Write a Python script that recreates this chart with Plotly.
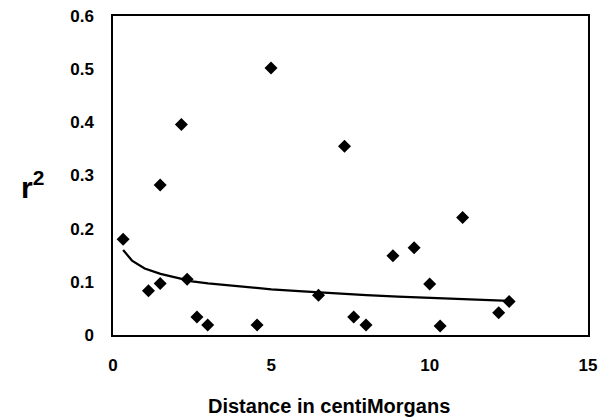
import plotly.graph_objects as go

# Scatter data (distance in cM, r^2)
dist_cm = [0.32, 1.12, 1.49, 1.49, 2.16, 2.34, 2.65, 2.99, 4.55, 4.99,
           6.49, 7.31, 7.60, 7.99, 8.84, 9.51, 10.0, 10.33, 11.04, 12.18, 12.51]
r2 = [0.180, 0.083, 0.097, 0.282, 0.396, 0.105, 0.034, 0.019, 0.019, 0.502,
      0.075, 0.355, 0.034, 0.019, 0.149, 0.164, 0.096, 0.017, 0.221, 0.042, 0.063]

# Trend curve
trend_x = [0.32, 0.6, 1.0, 1.5, 2.0, 2.5, 3.0, 4.0, 5.0, 6.0, 7.0, 8.0, 9.0, 10.0, 11.0, 12.0, 12.51]
trend_y = [0.160, 0.140, 0.125, 0.115, 0.108, 0.101, 0.097, 0.091, 0.086, 0.082,
           0.078, 0.075, 0.072, 0.070, 0.068, 0.066, 0.064]

x_ticks = [0, 5, 10, 15]
y_ticks = [0, 0.1, 0.2, 0.3, 0.4, 0.5, 0.6]
y_tick_labels = ["0", "0.1", "0.2", "0.3", "0.4", "0.5", "0.6"]

fam = "Liberation Sans, Arial, sans-serif"

fig = go.Figure()
fig.add_trace(go.Scatter(x=trend_x, y=trend_y, mode="lines",
                         line=dict(color="black", width=2.2), showlegend=False,
                         hoverinfo="skip"))
fig.add_trace(go.Scatter(x=dist_cm, y=r2, mode="markers",
                         marker=dict(symbol="diamond", color="black", size=10),
                         showlegend=False))

fig.update_layout(
    width=602, height=419,
    margin=dict(l=113, r=14, t=16, b=84),
    paper_bgcolor="white", plot_bgcolor="white",
    font=dict(family=fam, color="black"),
    xaxis=dict(range=[0, 15], tickvals=x_ticks, ticktext=[str(v) for v in x_ticks],
               showgrid=False, zeroline=False, showline=True, linecolor="black",
               linewidth=1.5, mirror=True, ticks="", ticklabelstandoff=14,
               automargin=False, ticklabeloverflow="allow",
               tickfont=dict(size=17, family=fam, weight="bold")),
    yaxis=dict(range=[0, 0.6], tickvals=y_ticks, ticktext=y_tick_labels,
               showgrid=False, zeroline=False, showline=True, linecolor="black",
               linewidth=1.5, mirror=True, ticks="", ticklabelstandoff=14,
               automargin=False, ticklabeloverflow="allow",
               tickfont=dict(size=17, family=fam, weight="bold")),
    annotations=[
        dict(text="<b>r<sup>2</sup></b>", xref="paper", yref="paper",
             x=-0.17, y=0.47, xanchor="center", yanchor="middle",
             showarrow=False, font=dict(size=30, family=fam)),
        dict(text="<b>Distance in centiMorgans</b>", xref="paper", yref="paper",
             x=(329 - 113) / 475, y=-(406 - 335) / 319, xanchor="center", yanchor="middle",
             showarrow=False, font=dict(size=20, family=fam)),
    ],
)

fig.write_html("out.html", config={"displayModeBar": False},
               post_script="document.body.style.margin='0';")
